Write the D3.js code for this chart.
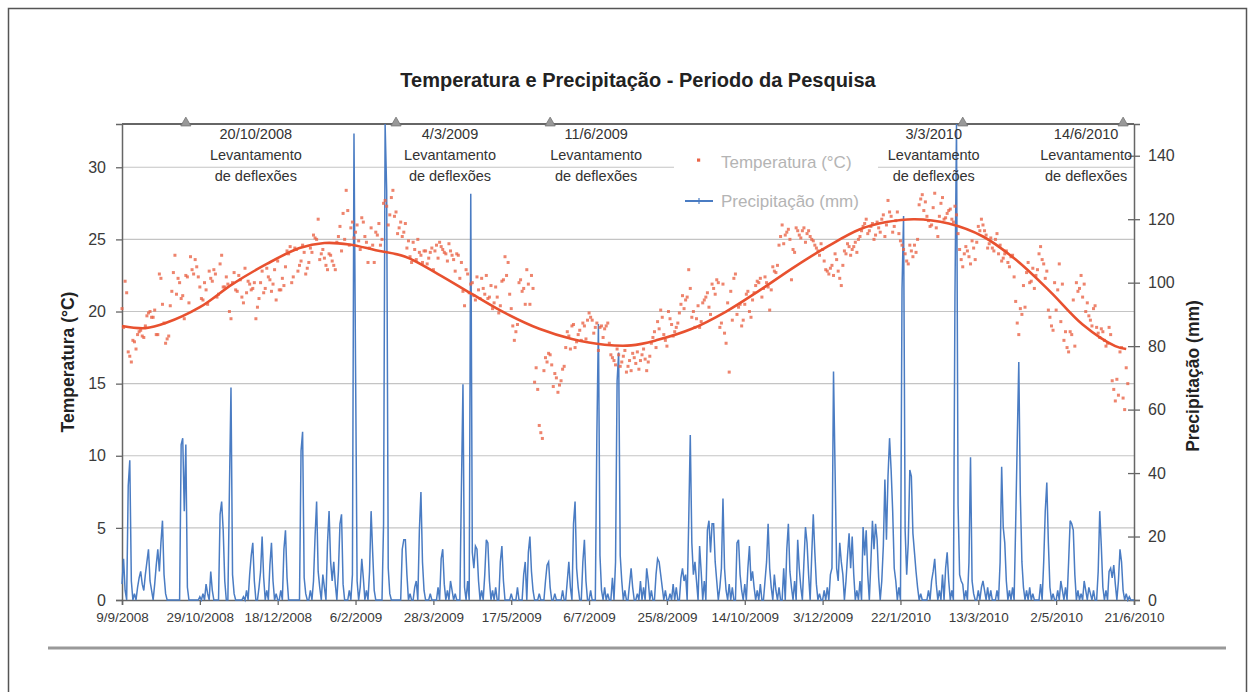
<!DOCTYPE html>
<html>
<head>
<meta charset="utf-8">
<script src="https://cdn.jsdelivr.net/npm/d3@7"></script>
<style>
  body { margin: 0; background: #fff; }
  svg { display: block; font-family: "Liberation Sans", Arial, sans-serif; }
</style>
</head>
<body>
<svg id="chart" width="1255" height="692"></svg>
<script>
/// DATA ///
const startDate = "9/9/2008";
const xTickLabels = ["9/9/2008", "29/10/2008", "18/12/2008", "6/2/2009", "28/3/2009",
  "17/5/2009", "6/7/2009", "25/8/2009", "14/10/2009", "3/12/2009", "22/1/2010",
  "13/3/2010", "2/5/2010", "21/6/2010"];
const tempTicks = [0, 5, 10, 15, 20, 25, 30];
const rainTicks = [0, 20, 40, 60, 80, 100, 120, 140];

// daily temperature (°C) on even days after startDate (day 0, 2, 4, ...)
const tempEvenDays = [
  20.2, 22.1, 17.2, 16.5, 17.9, 18.4, 18.7, 18.2, 19.7, 20.0,
  19.6, 18.4, 22.6, 20.5, 17.8, 18.3, 21.4, 23.9, 22.3, 20.9,
  19.5, 22.4, 23.8, 22.6, 23.1, 21.7, 20.8, 21.5, 22.8, 22.1,
  22.6, 21.2, 23.9, 21.7, 21.9, 19.5, 22.7, 21.4, 22.2, 20.6,
  21.3, 21.9, 21.6, 19.5, 20.9, 22.8, 21.6, 22.4, 21.4, 22.9,
  23.5, 21.5, 21.8, 24.2, 24.5, 22.4, 24.3, 23.2, 24.6, 22.6,
  23.4, 24.1, 25.1, 26.4, 24.0, 23.7, 22.9, 23.9, 23.2, 24.8,
  25.9, 26.8, 28.4, 24.6, 26.2, 25.5, 24.9, 26.5, 25.2, 23.4,
  25.8, 23.4, 25.3, 24.6, 27.5, 27.3, 26.7, 28.4, 26.9, 25.8,
  25.2, 26.1, 24.9, 23.4, 24.3, 25.0, 23.9, 24.2, 23.3, 24.1,
  22.9, 24.6, 24.8, 24.3, 24.0, 24.7, 23.9, 22.8, 23.9, 23.4,
  20.4, 22.6, 21.9, 21.1, 22.4, 20.9, 21.6, 22.5, 21.0, 20.2,
  21.7, 19.9, 22.1, 23.8, 23.4, 20.2, 18.0, 19.1, 22.2, 21.6,
  22.9, 20.5, 21.6, 16.1, 12.1, 11.2, 16.8, 17.1, 16.3, 15.7,
  14.4, 15.2, 16.2, 18.6, 17.4, 19.1, 17.9, 18.7, 19.2, 18.1,
  19.9, 19.4, 18.9, 17.3, 19.0, 18.8, 19.2, 17.0, 16.6, 17.4,
  16.2, 16.9, 15.8, 16.6, 17.1, 16.4, 16.0, 17.0, 16.7, 16.5,
  17.8, 18.6, 19.3, 20.1, 18.4, 17.6, 19.5, 18.3, 18.9, 19.9,
  21.1, 20.8, 22.9, 19.6, 18.9, 20.4, 19.3, 20.8, 21.3, 19.8,
  21.6, 22.2, 18.9, 21.9, 17.8, 15.8, 19.4, 22.6, 20.3, 19.0,
  20.5, 21.4, 19.6, 21.3, 22.1, 22.3, 21.6, 22.0, 20.1, 23.1,
  22.7, 24.6, 26.0, 25.3, 25.7, 22.2, 24.1, 25.6, 25.1, 25.8,
  25.4, 25.2, 24.9, 24.4, 23.9, 24.3, 22.9, 22.6, 23.2, 24.0,
  22.8, 21.8, 24.2, 24.7, 23.9, 24.5, 24.1, 25.2, 25.9, 26.4,
  25.6, 26.1, 25.3, 25.8, 26.4, 25.2, 27.7, 26.6, 25.9, 26.9,
  24.9, 24.3, 23.5, 24.6, 23.8, 24.1, 27.4, 28.1, 27.6, 26.3,
  26.0, 28.2, 25.2, 27.5, 26.4, 26.8, 27.1, 26.2, 26.7, 24.3,
  23.1, 24.5, 23.8, 24.9, 23.6, 25.9, 26.4, 25.6, 24.4, 25.1,
  24.2, 25.4, 24.6, 23.7, 24.2, 23.1, 23.9, 20.7, 18.4, 19.8,
  20.3, 23.4, 22.1, 21.6, 22.9, 24.5, 23.3, 22.8, 19.6, 18.7,
  20.1, 23.3, 21.9, 18.6, 17.2, 18.4, 17.6, 21.4, 22.5, 21.9,
  20.6, 19.4, 20.2, 18.9, 18.2, 18.6, 17.6, 18.9, 15.2, 13.8,
  14.2, 17.5, 13.2, 15.0
];

// daily temperature (°C) on odd days after startDate (day 1, 3, 5, ...)
const tempOddDays = [
  18.9, 21.3, 16.9, 18.0, 17.4, 18.6, 18.3, 19.0, 19.9, 19.6,
  20.1, 18.4, 22.3, 19.2, 18.1, 20.4, 22.7, 21.2, 22.0, 21.1,
  22.5, 20.6, 22.9, 23.6, 22.4, 20.9, 22.0, 20.5, 22.3, 22.9,
  21.0, 23.3, 21.7, 22.4, 20.0, 22.0, 21.5, 22.5, 21.0, 23.0,
  22.1, 21.5, 22.0, 20.3, 22.0, 21.3, 23.0, 22.2, 21.9, 20.8,
  21.5, 22.3, 23.1, 24.0, 22.0, 24.4, 22.8, 23.5, 24.1, 23.0,
  24.4, 25.3, 25.0, 23.6, 24.3, 23.2, 24.0, 23.5, 22.9, 25.2,
  24.2, 25.0, 27.0, 25.8, 25.1, 26.0, 24.3, 26.2, 24.8, 24.4,
  24.6, 25.5, 26.1, 25.0, 27.7, 26.0, 27.9, 26.6, 25.4, 26.2,
  25.5, 24.4, 23.8, 24.8, 23.6, 24.1, 23.4, 24.2, 23.7, 24.4,
  24.2, 23.7, 24.5, 24.1, 23.5, 24.2, 23.6, 24.0, 22.3, 21.4,
  22.9, 21.3, 22.0, 20.8, 21.5, 22.3, 21.2, 20.9, 21.8, 20.6,
  21.0, 20.4, 22.2, 22.5, 21.2, 19.0, 18.6, 22.0, 21.4, 20.5,
  21.9, 22.5, 15.1, 14.6, 11.6, 15.9, 16.5, 17.0, 14.8, 15.4,
  14.9, 16.0, 17.5, 18.3, 19.0, 17.5, 18.4, 18.0, 19.0, 19.4,
  19.6, 18.5, 19.2, 18.9, 18.2, 19.0, 17.8, 16.8, 16.3, 17.0,
  16.5, 17.3, 16.2, 15.9, 16.8, 17.2, 16.6, 17.4, 15.9, 16.9,
  18.2, 17.5, 18.8, 19.6, 18.0, 20.0, 19.1, 18.6, 19.2, 20.5,
  20.2, 21.0, 21.6, 20.0, 19.5, 18.9, 20.6, 21.0, 20.3, 21.9,
  21.2, 22.0, 19.2, 18.5, 20.6, 21.4, 22.3, 19.8, 20.5, 19.4,
  21.2, 20.0, 20.8, 21.8, 22.0, 21.0, 22.4, 21.7, 21.5, 22.8,
  23.2, 25.2, 24.7, 25.5, 25.0, 24.3, 25.8, 25.3, 25.6, 24.8,
  25.6, 25.0, 24.6, 24.2, 24.7, 23.5, 22.8, 23.0, 22.5, 23.6,
  22.3, 23.2, 24.0, 24.5, 24.3, 24.8, 25.0, 25.6, 26.1, 25.4,
  25.9, 25.0, 26.2, 25.5, 26.7, 26.0, 26.9, 25.5, 26.3, 25.4,
  24.6, 24.0, 23.3, 24.2, 24.6, 25.0, 27.8, 27.0, 26.6, 25.9,
  27.2, 25.8, 26.6, 27.9, 26.5, 27.0, 26.4, 27.3, 25.4, 23.6,
  24.0, 24.2, 23.3, 24.4, 24.8, 25.6, 26.0, 25.3, 24.7, 24.4,
  25.0, 24.0, 23.5, 24.0, 23.4, 23.8, 22.4, 19.2, 20.2, 21.8,
  22.7, 22.0, 23.0, 22.5, 24.0, 23.6, 22.3, 20.1, 19.0, 22.0,
  21.5, 19.3, 18.0, 17.5, 18.6, 20.8, 22.0, 21.6, 21.0, 20.0,
  19.7, 19.0, 20.4, 18.5, 18.8, 18.0, 17.8, 18.4, 14.6, 15.3,
  17.2, 14.0, 16.1
];

// temperature trend line (day from startDate, °C)
const trendDays = [0, 15, 28, 50, 71, 93, 114, 130, 146, 163, 182, 203, 225, 246, 268,
  289, 310, 327, 343, 366, 388, 410, 432, 453, 474, 491, 509, 531, 553, 574, 596, 617, 638, 645];
const trendTemps = [19.0, 18.85, 19.2, 20.3, 21.9, 23.3, 24.4, 24.75, 24.65, 24.25, 23.8,
  22.6, 21.2, 19.9, 18.8, 18.1, 17.7, 17.65, 18.0, 18.8, 20.0, 21.5, 23.1, 24.5, 25.7,
  26.2, 26.4, 26.1, 25.2, 23.6, 21.4, 19.1, 17.6, 17.4];

// rainy days: [day from startDate, mm]; every other day is 0 mm
const rainDaysMm = [
  [0,5],[1,13],[2,3],[4,36],[5,44],[6,6],[8,2],[10,4],[11,7],[12,9],[13,5],[14,3],[15,8],
  [16,12],[17,16],[18,6],[19,3],[21,5],[22,11],[23,16],[24,9],[25,18],[26,25],[27,8],[28,2],
  [38,49],[39,51],[40,28],[41,49],[42,4],[50,1],[52,2],[54,5],[55,2],[57,9],[58,3],
  [63,27],[64,31],[65,22],[66,6],[69,35],[70,67],[71,8],[72,2],
  [78,1],[80,3],[82,8],[83,14],[84,18],[85,6],[88,4],[89,9],[90,20],[91,7],[93,3],[95,11],
  [96,18],[97,6],[99,2],[102,3],[104,16],[105,22],[106,7],
  [115,47],[116,53],[117,7],[118,2],[121,3],[123,6],[124,20],[125,31],[126,9],[127,4],
  [129,8],[130,4],[132,18],[133,28],[134,12],[135,6],[136,12],[137,5],[139,9],[140,24],
  [141,27],[142,5],[146,3],[148,8],[149,147],[150,74],[151,6],[153,4],[154,13],[155,7],
  [157,3],[159,9],[160,28],[161,15],[162,3],[168,24],[169,150],[170,129],[171,10],[172,2],
  [180,16],[181,19],[182,19],[183,8],[185,2],[188,4],[189,6],[191,22],[192,34],[193,12],[194,3],
  [198,2],[203,4],[205,13],[206,16],[207,5],[209,3],[211,6],[212,3],[214,2],
  [218,35],[219,68],[220,4],[222,6],[224,128],[225,15],[226,10],[227,17],[228,16],[229,6],
  [231,3],[233,8],[234,19],[235,18],[236,6],[238,3],[240,4],[243,12],[244,17],[245,6],
  [250,2],[254,4],[258,8],[259,12],[261,15],[262,20],[263,9],[264,3],[268,2],[272,6],
  [273,11],[274,12],[275,4],[278,2],[283,3],[286,6],[287,12],[288,4],[290,24],[291,31],
  [292,10],[293,4],[296,12],[297,19],[298,6],[301,3],[305,52],[306,87],[307,14],[308,3],[310,4],
  [312,2],[315,7],[317,12],[318,69],[319,78],[320,14],[321,6],[323,3],[326,5],[327,10],
  [328,4],[331,2],[333,6],[335,4],[337,10],[338,6],[340,3],[343,8],[344,13],[345,12],
  [346,8],[347,4],[349,3],[352,2],[354,5],[356,4],[359,7],[360,10],[361,6],[362,8],
  [364,25],[365,52],[366,18],[367,8],[368,12],[369,6],[371,17],[372,9],[374,6],[376,22],
  [377,25],[378,15],[379,24],[380,24],[381,12],[382,6],[384,4],[385,10],[386,32],[387,10],
  [388,3],[390,5],[392,4],[395,18],[396,19],[397,8],[398,3],[400,5],[402,10],[403,17],
  [404,6],[405,9],[406,4],[408,3],[410,5],[413,6],[414,12],[415,24],[416,10],[417,4],
  [419,8],[420,3],[422,4],[425,10],[427,16],[428,24],[429,9],[430,4],[432,6],[434,19],
  [435,10],[436,4],[438,12],[439,23],[440,18],[441,8],[443,14],[444,27],[445,15],[446,5],
  [448,2],[451,3],[453,4],[455,8],[456,10],[457,72],[458,41],[459,10],[460,6],[461,18],
  [462,12],[463,8],[465,6],[466,14],[467,21],[468,10],[469,20],[470,8],[472,3],[474,6],
  [476,23],[477,14],[478,22],[479,8],[481,12],[482,25],[483,16],[484,24],[485,19],[486,7],
  [488,6],[489,17],[490,38],[491,19],[492,39],[493,51],[494,41],[495,28],[496,10],[497,6],
  [499,4],[501,98],[502,121],[503,22],[504,8],[505,18],[506,41],[507,39],[508,21],[509,15],
  [510,9],[511,4],[513,2],[518,3],[520,6],[521,9],[522,13],[523,5],[525,3],[527,8],
  [529,10],[530,15],[531,6],[533,3],[535,96],[536,150],[537,30],[538,8],[539,6],[540,5],
  [542,3],[544,12],[545,45],[546,6],[547,2],[550,3],[552,4],[553,6],[554,3],[556,4],[558,3],
  [562,3],[564,12],[565,42],[566,23],[567,18],[568,6],[570,3],[572,4],[574,24],[575,50],
  [576,75],[577,33],[578,12],[579,4],[581,3],[583,4],[585,2],[590,5],[592,12],[593,28],
  [594,37],[595,18],[596,4],[598,2],[601,3],[603,6],[604,3],[606,4],[608,12],[609,25],
  [610,24],[611,22],[612,8],[614,3],[616,2],[618,6],[619,3],[621,4],[622,2],[624,3],
  [627,9],[628,28],[629,17],[630,4],[632,3],[634,9],[635,10],[636,7],[637,11],[638,5],
  [640,6],[641,16],[642,12],[643,3],[645,2],[647,1]
];

// survey dates ("Levantamento de deflexões")
const surveyDates = ["20/10/2008", "4/3/2009", "11/6/2009", "3/3/2010", "14/6/2010"];

/// LAYOUT ///
const plot = { left: 122, right: 1134, top: 124, bottom: 600 };
const surveyLabelShift = [70, 54, 46, -29, -37]; // label centre relative to marker

const parseDate = d3.utcParse("%d/%m/%Y");
const fmtDate = d3.utcFormat("%-d/%-m/%Y");
const start = parseDate(startDate);
const dayDate = (d) => d3.utcDay.offset(start, d);

const svg = d3.select("#chart");

// outer frame and bottom rule
svg.append("rect").attr("x", 8.5).attr("y", 8.5).attr("width", 1238).attr("height", 720)
  .attr("fill", "none").attr("stroke", "#555").attr("stroke-width", 1.5);
svg.append("line").attr("x1", 48).attr("x2", 1226).attr("y1", 648).attr("y2", 648)
  .attr("stroke", "#999").attr("stroke-width", 3);

// title
svg.append("text").attr("x", 638).attr("y", 87).attr("text-anchor", "middle")
  .attr("font-size", 20).attr("font-weight", "bold").attr("fill", "#222")
  .text("Temperatura e Precipitação - Periodo da Pesquisa");

// scales
const x = d3.scaleUtc()
  .domain([parseDate(xTickLabels[0]), parseDate(xTickLabels[xTickLabels.length - 1])])
  .range([plot.left, plot.right]);
const yT = d3.scaleLinear().domain([0, 33]).range([plot.bottom, plot.top]);
const yP = d3.scaleLinear().domain([0, 150]).range([plot.bottom, plot.top]);

// gridlines
svg.append("g").selectAll("line")
  .data(tempTicks.filter((t) => t > 0))
  .join("line")
  .attr("x1", plot.left).attr("x2", plot.right)
  .attr("y1", (d) => yT(d)).attr("y2", (d) => yT(d))
  .attr("stroke", "#c4c4c4").attr("stroke-width", 1.2);

// legend box (white, hides gridline)
const legend = svg.append("g");
legend.append("rect").attr("x", 674).attr("y", 142).attr("width", 204).attr("height", 78)
  .attr("fill", "#fff");

// axes
const axisStyle = (g) => {
  g.select(".domain").attr("stroke", "#666").attr("stroke-width", 1.5);
  g.selectAll(".tick line").attr("stroke", "#666").attr("stroke-width", 1.3);
  g.selectAll("text").attr("fill", "#3a3a3a").style("font-family", "'Liberation Sans', Arial, sans-serif");
};

svg.append("g")
  .attr("transform", `translate(${plot.left},0)`)
  .call(d3.axisLeft(yT).tickValues(tempTicks).tickSize(6).tickPadding(10))
  .call(axisStyle)
  .selectAll("text").attr("font-size", 16);

const rightAxis = svg.append("g")
  .attr("transform", `translate(${plot.right},0)`)
  .call(d3.axisRight(yP).tickValues(rainTicks).tickSize(6).tickPadding(8))
  .call(axisStyle);
rightAxis.selectAll("text").attr("font-size", 16);
rightAxis.selectAll(".tick line").attr("x1", -6).attr("x2", 6);

const xAxis = svg.append("g")
  .attr("transform", `translate(0,${plot.bottom})`)
  .call(d3.axisBottom(x).tickValues(xTickLabels.map(parseDate)).tickFormat(fmtDate)
    .tickSize(5).tickPadding(7))
  .call(axisStyle);
xAxis.selectAll("text").attr("font-size", 13.5);

// top border
svg.append("line").attr("x1", plot.left).attr("x2", plot.right)
  .attr("y1", plot.top).attr("y2", plot.top)
  .attr("stroke", "#666").attr("stroke-width", 2);

// axis titles
svg.append("text")
  .attr("transform", `translate(74,${(plot.top + plot.bottom) / 2}) rotate(-90)`)
  .attr("text-anchor", "middle").attr("font-size", 17.5).attr("font-weight", "bold")
  .attr("fill", "#222").text("Temperatura (°C)");
svg.append("text")
  .attr("transform", `translate(1199,376) rotate(-90)`)
  .attr("text-anchor", "middle").attr("font-size", 17.5).attr("font-weight", "bold")
  .attr("fill", "#222").text("Precipitação (mm)");

// precipitation, daily series
const rainByDay = new Map(rainDaysMm);
const totalDays = d3.utcDay.count(start, parseDate(xTickLabels[xTickLabels.length - 1]));
const rainSeries = d3.range(0, totalDays + 1).map((d) => ({
  date: dayDate(d),
  mm: rainByDay.get(d) || 0,
}));

svg.append("path")
  .datum(rainSeries)
  .attr("fill", "none")
  .attr("stroke", "#4a7cc3")
  .attr("stroke-width", 1.5)
  .attr("d", d3.line().x((d) => x(d.date)).y((d) => yP(Math.min(d.mm, 150))));

// temperature readings
const tempPoints = tempEvenDays.map((t, i) => ({ date: dayDate(i * 2), t }))
  .concat(tempOddDays.map((t, i) => ({ date: dayDate(i * 2 + 1), t })));
svg.append("g").selectAll("rect")
  .data(tempPoints)
  .join("rect")
  .attr("x", (d) => x(d.date) - 1.5)
  .attr("y", (d) => yT(d.t) - 1.5)
  .attr("width", 3)
  .attr("height", 3)
  .attr("fill", "#ea6548")
  .attr("opacity", 0.8);

// trend line
svg.append("path")
  .datum(trendDays.map((d, i) => ({ date: dayDate(d), t: trendTemps[i] })))
  .attr("fill", "none")
  .attr("stroke", "#e8512f")
  .attr("stroke-width", 2.6)
  .attr("d", d3.line().curve(d3.curveCatmullRom).x((d) => x(d.date)).y((d) => yT(d.t)));

// survey markers + labels
const survey = svg.append("g").selectAll("g")
  .data(surveyDates)
  .join("g")
  .attr("transform", (d) => `translate(${x(parseDate(d))},${plot.top})`);
survey.append("path")
  .attr("d", d3.symbol(d3.symbolTriangle).size(45))
  .attr("transform", "translate(0,-1)")
  .attr("fill", "#999").attr("stroke", "#777").attr("stroke-width", 0.8);
const labels = survey.append("text")
  .attr("text-anchor", "middle")
  .attr("font-size", 14.5)
  .attr("fill", "#333");
labels.each(function (d, i) {
  const t = d3.select(this);
  [d, "Levantamento", "de deflexões"].forEach((line, k) => {
    t.append("tspan").attr("x", surveyLabelShift[i]).attr("y", 15 + k * 21).text(line);
  });
});

// legend content
legend.append("rect").attr("x", 697).attr("y", 158.5).attr("width", 3.2).attr("height", 3.2)
  .attr("fill", "#ea6548");
legend.append("text").attr("x", 721).attr("y", 168).attr("font-size", 17).attr("fill", "#b4b4b4")
  .text("Temperatura (°C)");
legend.append("line").attr("x1", 685).attr("x2", 713).attr("y1", 201).attr("y2", 201)
  .attr("stroke", "#4a7cc3").attr("stroke-width", 2);
legend.append("line").attr("x1", 699).attr("x2", 699).attr("y1", 198).attr("y2", 204)
  .attr("stroke", "#4a7cc3").attr("stroke-width", 1.2);
legend.append("text").attr("x", 721).attr("y", 207).attr("font-size", 17).attr("fill", "#b4b4b4")
  .text("Precipitação (mm)");
</script>
</body>
</html>
